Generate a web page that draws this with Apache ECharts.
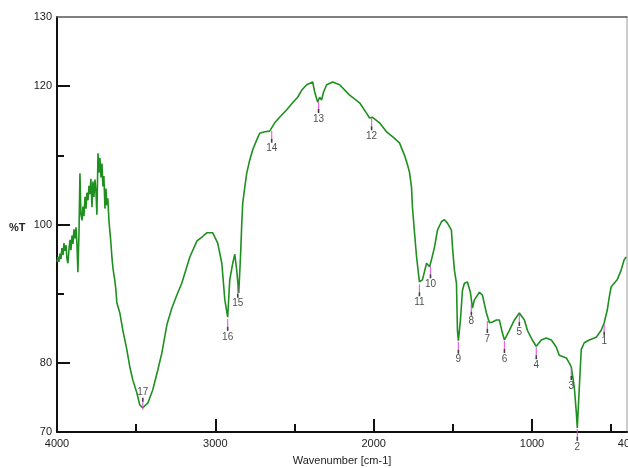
<!DOCTYPE html>
<html>
<head>
<meta charset="utf-8">
<script src="https://cdn.jsdelivr.net/npm/echarts@6/dist/echarts.min.js"></script>
<style>
html,body{margin:0;padding:0;background:#fff;}
#chart{width:628px;height:468px;}
</style>
</head>
<body>
<div id="chart"></div>
<script>
// Spectrum: wavenumber (cm-1) and %T
var wavenumbers = [4000,3994,3988,3981,3975,3969,3962,3956,3950,3943,3937,3931,3924,3918,3912,3905,3899,3893,3886,3880,3874,3868,3861,3855,3849,3842,3836,3830,3823,3817,3811,3804,3798,3792,3786,3779,3773,3767,3760,3754,3748,3741,3735,3729,3722,3716,3710,3704,3697,3691,3685,3679,3672,3666,3660,3653,3647,3641,3634,3628,3622,3603,3584,3559,3540,3521,3495,3477,3458,3426,3395,3363,3338,3306,3275,3243,3212,3161,3117,3079,3054,3016,2985,2959,2940,2922,2909,2890,2877,2865,2852,2840,2833,2827,2814,2802,2783,2764,2739,2720,2688,2657,2625,2594,2549,2512,2480,2455,2423,2385,2373,2354,2341,2329,2316,2297,2259,2215,2152,2089,2045,2026,2007,1963,1919,1881,1837,1805,1786,1774,1761,1755,1742,1729,1711,1692,1666,1647,1635,1616,1597,1572,1553,1534,1509,1502,1490,1477,1471,1465,1452,1439,1427,1408,1389,1376,1364,1332,1313,1288,1269,1250,1225,1206,1187,1174,1143,1111,1080,1048,1029,998,973,941,910,878,847,828,783,765,752,746,733,720,714,701,689,670,638,594,563,544,525,512,500,481,462,437,418,405];
var transmittance = [94.6,95.3,94.6,95.8,95.0,96.6,95.6,97.3,96.2,97.0,95.0,94.4,96.5,97.8,96.3,98.4,97.2,99.3,98.0,99.6,97.2,93.1,99.0,107.4,101.5,100.6,102.6,101.2,104.0,102.3,104.6,103.5,105.6,104.4,106.6,102.5,106.2,104.0,106.5,104.8,101.4,110.3,107.5,109.6,106.8,108.8,105.5,107.0,102.3,105.2,102.8,103.8,100.6,99.0,97.5,95.2,93.8,92.8,91.8,90.5,88.7,87.2,84.7,81.9,79.4,77.5,75.6,73.9,73.5,74.2,76.1,79.0,81.4,85.5,87.9,89.8,91.5,95.3,97.6,98.3,98.8,98.8,97.3,94.4,89.1,86.6,92.0,94.4,95.7,93.4,90.1,95.9,100.2,103.1,105.4,107.4,109.3,110.8,112.2,113.2,113.4,113.5,114.7,115.5,116.6,117.6,118.4,119.4,120.2,120.6,119.2,117.7,118.4,118.0,119.2,120.2,120.6,120.2,118.7,117.6,116.1,115.4,115.5,114.7,113.4,112.7,111.8,110.0,108.6,107.6,105.4,102.5,98.8,95.3,91.7,92.0,94.4,93.9,94.9,96.7,99.2,100.4,100.7,100.2,99.2,96.7,93.4,91.5,84.7,83.2,86.2,90.5,91.5,91.7,90.2,87.9,89.1,90.2,89.8,87.2,85.8,85.9,86.2,86.2,84.3,83.3,84.7,86.2,87.2,86.2,84.7,83.3,82.4,83.3,83.6,83.3,82.3,81.1,80.7,80.0,79.4,78.5,76.5,72.8,70.6,76.5,81.9,82.9,83.3,83.7,84.7,85.8,87.6,89.5,91.0,91.5,92.0,93.4,94.9,95.3];

// Peak picks
var peakLabels = ['1','2','3','4','5','6','7','8','9','10','11','12','13','14','15','16','17'];
var peakWavenumbers = [544,714,752,973,1080,1174,1282,1383,1465,1641,1711,2013,2348,2644,2858,2922,3458];
var peakT = [85.8,70.6,79.4,82.4,87.2,83.3,86.2,88.7,83.2,94.1,91.5,115.5,118.0,113.7,91.3,86.5,73.5];

// Axis ticks / labels
var xLabelValues = [4000,3000,2000,1000,400];
var xMajorTicks = [3000,2000,1000];
var xMinorTicks = [3500,2500,1500,500];
var yLabelValues = [70,80,100,120,130];
var yMajorTicks = [80,100,120];
var yMinorTicks = [90,110];

var FONT = 'Liberation Sans';
var lineData = wavenumbers.map(function(w,i){return [w, transmittance[i]];});

var magentaData = [], blackData = [];
peakWavenumbers.forEach(function(w,i){
  var up = peakLabels[i] === '17';
  magentaData.push({value:[w, peakT[i]], symbolOffset:[0, up ? -2 : 5]});
  blackData.push({
    value:[w, peakT[i]],
    symbolOffset:[0, up ? -8 : 11],
    label:{show:true, formatter:peakLabels[i], position: up ? 'top' : 'bottom', distance: 1}
  });
});

var chart = echarts.init(document.getElementById('chart'), null, {renderer:'canvas'});
var axisLineStyle = {color:'#111', width:2};
var plain = function(v){return String(v);};
chart.setOption({
  animation:false,
  backgroundColor:'#fff',
  grid:{left:57, right:1, top:17, bottom:36, containLabel:false, outerBoundsMode:'none'},
  xAxis:[
    {type:'value', inverse:true, min:400, max:4000, position:'bottom',
     axisLine:{show:true, onZero:false, lineStyle:axisLineStyle},
     axisTick:{show:true, inside:true, length:13, customValues:xMajorTicks, lineStyle:{color:'#111', width:2}},
     axisLabel:{show:true, customValues:xLabelValues, formatter:plain, margin:6, fontFamily:FONT, fontSize:11, color:'#222', hideOverlap:false},
     splitLine:{show:false},
     name:'Wavenumber [cm-1]', nameLocation:'middle', nameGap:23,
     nameTextStyle:{fontFamily:FONT, fontSize:11, color:'#222'}},
    {type:'value', inverse:true, min:400, max:4000, position:'bottom',
     axisLine:{show:false},
     axisTick:{show:true, inside:true, length:8, customValues:xMinorTicks, lineStyle:{color:'#111', width:2}},
     axisLabel:{show:false}, splitLine:{show:false}},
    {type:'value', inverse:true, min:400, max:4000, position:'top',
     axisLine:{show:true, onZero:false, lineStyle:{color:'#555', width:1.5}},
     axisTick:{show:false}, axisLabel:{show:false}, splitLine:{show:false}}
  ],
  yAxis:[
    {type:'value', min:70, max:130, interval:10, position:'left',
     axisLine:{show:true, onZero:false, lineStyle:axisLineStyle},
     axisTick:{show:true, inside:true, length:13, customValues:yMajorTicks, lineStyle:{color:'#111', width:2}},
     axisLabel:{show:true, customValues:yLabelValues, formatter:plain, margin:5, fontFamily:FONT, fontSize:11, color:'#222'},
     splitLine:{show:false}},
    {type:'value', min:70, max:130, interval:10, position:'left',
     axisLine:{show:false},
     axisTick:{show:true, inside:true, length:7, customValues:yMinorTicks, lineStyle:{color:'#111', width:2}},
     axisLabel:{show:false}, splitLine:{show:false}},
    {type:'value', min:70, max:130, interval:10, position:'right',
     axisLine:{show:true, onZero:false, lineStyle:{color:'#bbb', width:1.5}},
     axisTick:{show:false}, axisLabel:{show:false}, splitLine:{show:false}}
  ],
  graphic:[
    {type:'text', left:9, top:222, style:{text:'%T', fontFamily:FONT, fontSize:11, fontWeight:'bold', fill:'#222'}}
  ],
  series:[
    {type:'line', data:lineData, xAxisIndex:0, yAxisIndex:0, showSymbol:false, symbol:'none',
     lineStyle:{color:'#1f8f1f', width:1.6}, clip:true, z:3},
    {type:'scatter', data:magentaData, xAxisIndex:0, yAxisIndex:0, symbol:'rect', symbolSize:[1.2,8],
     itemStyle:{color:'#e040e0'}, clip:false, z:4, silent:true},
    {type:'scatter', data:blackData, xAxisIndex:0, yAxisIndex:0, symbol:'rect', symbolSize:[1.6,4],
     itemStyle:{color:'#111'}, clip:false, z:5, silent:true,
     label:{fontFamily:FONT, fontSize:10, color:'#222'}}
  ]
});
</script>
</body>
</html>
